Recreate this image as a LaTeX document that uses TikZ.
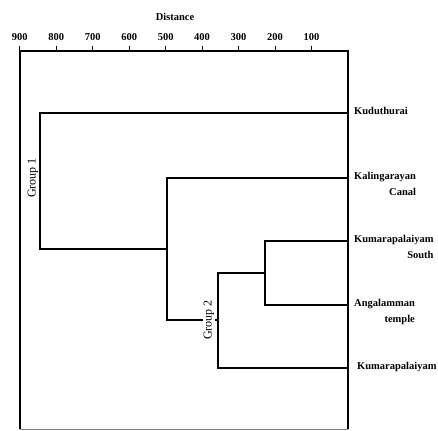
\documentclass[tikz,border=0pt]{standalone}
\usepackage{fontspec}
\setmainfont{Liberation Serif}
\begin{document}
\begin{tikzpicture}[
		x=1pt, y=-1pt,
		frame/.style={line width=2.2pt},
		link/.style={line width=1.8pt},
		site/.style={anchor=north west, inner sep=0pt, align=right, font=\fontsize{10.5}{16}\selectfont\bfseries},
		scalelbl/.style={inner sep=0pt, font=\fontsize{10.5}{12}\selectfont\bfseries},
		grp/.style={rotate=90, fill=white, inner sep=1pt, font=\fontsize{12}{14}\selectfont},
	]
	\useasboundingbox (0,0) rectangle (438,430);

	% Frame and scale
	\draw[frame] (20,429) -- (20,51) -- (348,51) -- (348,429);
	\draw[line width=0.6pt, gray] (20,429) -- (348,429);
	\node[scalelbl] (dist) at (175,17) {Distance};
	\foreach \d in {900,800,...,100} {
		\node[scalelbl] (t\d) at ({348-0.3647*\d},37) {\d};
		\draw[line width=0.6pt] ({348-0.3647*\d},46) -- ({348-0.3647*\d},51);
	}

	% Sites
	\coordinate (kud) at (348,113);
	\coordinate (kal) at (348,178);
	\coordinate (kus) at (348,241);
	\coordinate (ang) at (348,305);
	\coordinate (kum) at (348,368);
	\node[site] (kudlbl) at (354,107) {Kuduthurai};
	\node[site] (kallbl) at (354,172) {Kalingarayan\\Canal};
	\node[site] (kuslbl) at (354,235) {Kumarapalaiyam\\South};
	\node[site] (anglbl) at (354,299) {Angalamman\\temple};
	\node[site] (kumlbl) at (357,362) {Kumarapalaiyam};

	% Merges
	\coordinate (m1) at (265,273);
	\coordinate (m2) at (218,320);
	\coordinate (m3) at (167,249);
	\coordinate (m4) at (40,180);
	\draw[link] (kus) -| (m1) |- (ang);
	\draw[link] (m1) -| (m2) |- (kum);
	\draw[link] (kal) -| (m3) |- (m2);
	\draw[link] (kud) -| (m4) |- (m3);

	% Groups
	\node[grp] (grp1) at (33,178) {Group 1};
	\node[grp] (grp2) at (209,320) {Group 2};

\end{tikzpicture}
\end{document}
